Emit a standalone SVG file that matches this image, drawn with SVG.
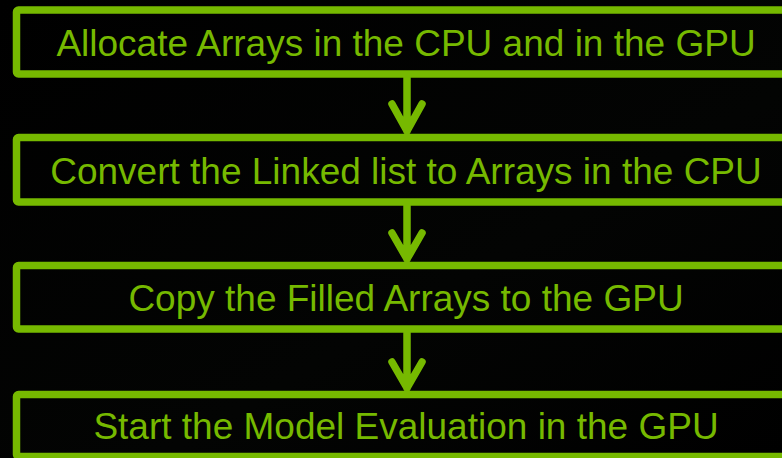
<svg xmlns="http://www.w3.org/2000/svg" width="782" height="458" viewBox="0 0 782 458">
<defs>
<style>
.box{fill:none;stroke:#76B900;stroke-width:7.5;}
.lbl{font-family:"Liberation Sans",Arial,sans-serif;font-size:37px;fill:#76B900;text-anchor:middle;}
.arr{fill:none;stroke:#76B900;stroke-width:7.5;stroke-linecap:round;stroke-linejoin:round;}
</style>
<linearGradient id="bg" x1="0" y1="0" x2="1" y2="1">
<stop offset="0" stop-color="#000"/>
<stop offset="0.6" stop-color="#030403"/>
<stop offset="1" stop-color="#000"/>
</linearGradient>
</defs>
<rect width="782" height="458" fill="url(#bg)"/>
<g id="connectors">
<path class="arr" d="M407 78 V131 M392 104 L407 131 L422 104"/>
<path class="arr" d="M407 206 V259 M392 233 L407 259 L422 233"/>
<path class="arr" d="M407 333 V388 M392 362 L407 388 L422 362"/>
</g>
<g id="n1">
<rect class="box" x="16.5" y="10" width="780" height="64" rx="2"/>
<text class="lbl" x="406" y="56">Allocate Arrays in the CPU and in the GPU</text>
</g>
<g id="n2">
<rect class="box" x="16.5" y="137.5" width="780" height="64.5" rx="2"/>
<text class="lbl" x="406" y="183.5">Convert the Linked list to Arrays in the CPU</text>
</g>
<g id="n3">
<rect class="box" x="16.5" y="265.5" width="780" height="63.5" rx="2"/>
<text class="lbl" x="406" y="311">Copy the Filled Arrays to the GPU</text>
</g>
<g id="n4">
<rect class="box" x="16.5" y="394.5" width="780" height="62" rx="2"/>
<text class="lbl" x="406" y="439">Start the Model Evaluation in the GPU</text>
</g>
</svg>
